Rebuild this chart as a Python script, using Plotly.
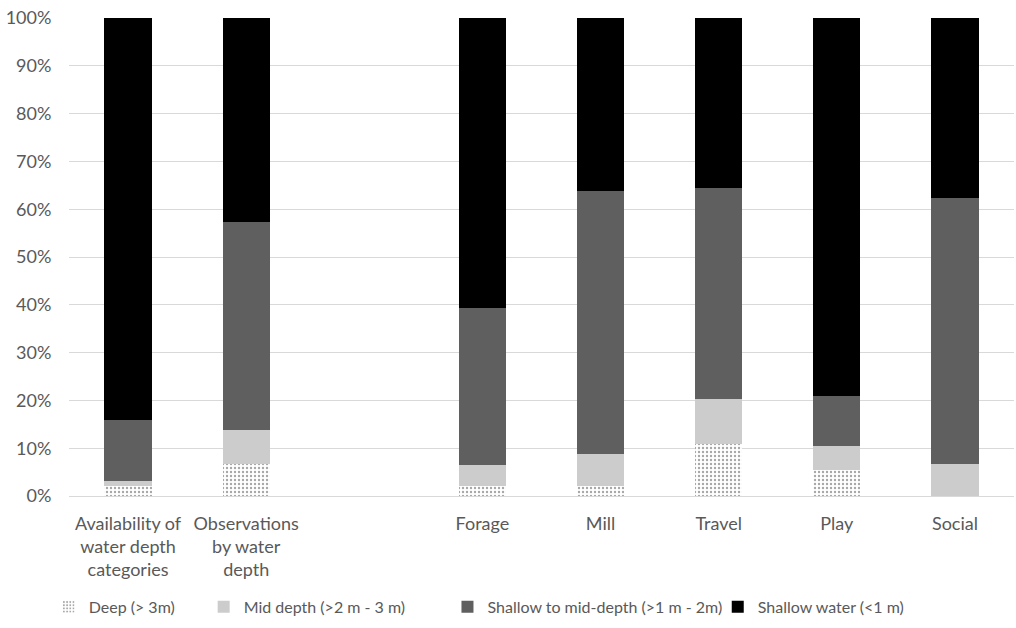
import plotly.graph_objects as go

categories = [
    "Availability of<br>water depth<br>categories",
    "Observations<br>by water<br>depth",
    " ",
    "Forage",
    "Mill",
    "Travel",
    "Play",
    "Social",
]
series_names = [
    "Deep (> 3m)",
    "Mid depth (>2 m - 3 m)",
    "Shallow to mid-depth (>1 m - 2m)",
    "Shallow water (<1 m)",
]
deep = [2.1, 6.6, None, 2.1, 2.1, 10.8, 5.4, 0.0]
mid_depth = [1.0, 7.2, None, 4.3, 6.6, 9.5, 5.1, 6.6]
shallow_mid = [12.9, 43.5, None, 32.9, 55.1, 44.2, 10.4, 55.7]
shallow = [84.0, 42.7, None, 60.7, 36.2, 35.5, 79.1, 37.7]
y_ticks = [0, 10, 20, 30, 40, 50, 60, 70, 80, 90, 100]
y_tick_labels = [f"{v}%" for v in y_ticks]

FONT = "Lato"
TXT = "#595959"

legend_ids = ["legend", "legend2", "legend3", "legend4"]
legend_x = [-0.0215, 0.1425, 0.4005, 0.6865]

fig = go.Figure()
fig.add_trace(go.Bar(
    name=series_names[0], x=categories, y=deep, legend=legend_ids[0],
    marker=dict(color="white",
                pattern=dict(shape=".", fgcolor="#505050", bgcolor="white",
                             size=4, solidity=0.28, fillmode="overlay"),
                line=dict(width=0)),
))
fig.add_trace(go.Bar(name=series_names[1], x=categories, y=mid_depth, legend=legend_ids[1],
                     marker=dict(color="#cccccc", line=dict(width=0))))
fig.add_trace(go.Bar(name=series_names[2], x=categories, y=shallow_mid, legend=legend_ids[2],
                     marker=dict(color="#5f5f5f", line=dict(width=0))))
fig.add_trace(go.Bar(name=series_names[3], x=categories, y=shallow, legend=legend_ids[3],
                     marker=dict(color="#000000", line=dict(width=0))))

legend_common = dict(orientation="h", xanchor="left", y=-0.232, yanchor="middle",
                     font=dict(family=FONT, size=16, color=TXT),
                     itemwidth=30, bgcolor="rgba(0,0,0,0)")
layout_legends = {}
for lid, lx in zip(legend_ids, legend_x):
    layout_legends[lid] = dict(legend_common, x=lx)

fig.update_layout(
    barmode="stack",
    bargap=0.6,
    width=1016, height=628,
    margin=dict(l=69, r=2, t=18, b=132, autoexpand=False),
    paper_bgcolor="white", plot_bgcolor="white",
    font=dict(family=FONT, size=18, color=TXT),
    hovermode=False,
    showlegend=True,
    xaxis=dict(type="category", showgrid=False, showline=False, zeroline=False,
               automargin=False,
               ticks="outside", ticklen=11, tickcolor="white",
               tickfont=dict(family=FONT, size=18, color=TXT)),
    yaxis=dict(range=[0, 100], tickvals=y_ticks, ticktext=y_tick_labels,
               automargin=False, ticklabeloverflow="allow",
               showgrid=True, gridcolor="#d9d9d9", gridwidth=1,
               zeroline=True, zerolinecolor="#d9d9d9", zerolinewidth=1,
               showline=False, ticks="outside", ticklen=13, tickcolor="white",
               tickfont=dict(family=FONT, size=18, color=TXT)),
    **layout_legends,
)

fig.write_html(
    "out.html",
    config={"displayModeBar": False, "staticPlot": True},
    post_script="document.body.style.margin='0';document.body.style.overflow='hidden';",
)
